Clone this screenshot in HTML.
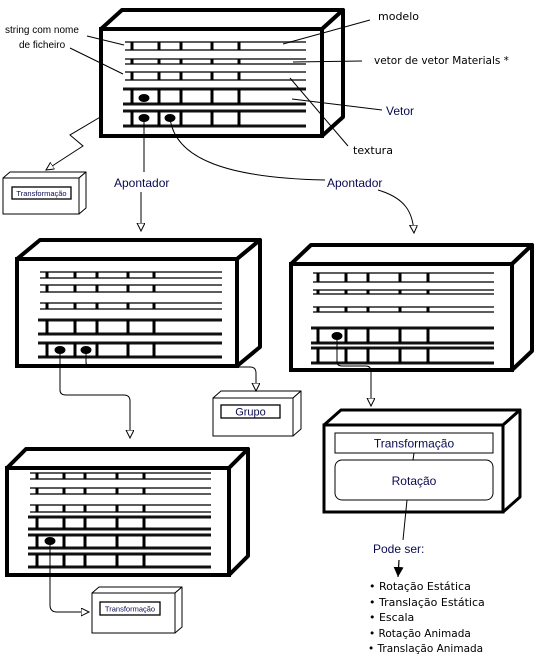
<!DOCTYPE html>
<html><head><meta charset="utf-8"><style>
html,body{margin:0;padding:0;background:#fff;width:545px;height:661px;overflow:hidden}
svg{display:block}
text{font-family:"Liberation Sans",sans-serif}
text.dj{font-family:"DejaVu Sans",sans-serif}
</style></head><body>
<svg id="s" width="545" height="661" viewBox="0 0 545 661" xmlns="http://www.w3.org/2000/svg">
<defs>
<marker id="oa" markerWidth="10" markerHeight="10" refX="8" refY="4" orient="auto" markerUnits="userSpaceOnUse"><path d="M0,0 L8,4 L0,8 Z" fill="#fff" stroke="#000" stroke-width="1"/></marker>
<marker id="fa" markerWidth="12" markerHeight="12" refX="10" refY="5" orient="auto" markerUnits="userSpaceOnUse"><path d="M0,0 L10,5 L0,10 Z" fill="#000"/></marker>
</defs>
<g id="boxes"></g>
<g fill="none" stroke="#000" stroke-width="1">
<line x1="87" y1="36" x2="124" y2="45"/>
<line x1="70" y1="48" x2="123" y2="74"/>
<line x1="370" y1="20" x2="283" y2="44"/>
<line x1="293" y1="62" x2="362" y2="61"/>
<line x1="292" y1="99" x2="382" y2="110"/>
<line x1="290" y1="78" x2="348" y2="146"/>
<path d="M102,116 L70,135 L83,146 L46,170" marker-end="url(#oa)"/>
<path d="M144,118 L144,172"/>
<path d="M141,192 L141,231" marker-end="url(#oa)"/>
<path d="M170,118 C175,160 230,178 325,180"/>
<path d="M378,190 C405,198 413,212 414,233" marker-end="url(#oa)"/>
<path d="M60,350 L60,390 Q60,395 66,395 L124,395 Q130,395 130,401 L130,438" marker-end="url(#oa)"/>
<path d="M86,350 L86,362 Q86,367 92,367 L250,367 Q256,367 256,373 L256,391" marker-end="url(#oa)"/>
<path d="M337,336 L337,362 Q337,366 342,366 L366,366 Q371,366 371,372 L371,406" marker-end="url(#oa)"/>
<path d="M50,541 L50,605 Q50,612 57,612 L89,612" marker-end="url(#oa)"/>
<line x1="414" y1="453" x2="413" y2="460"/>
<line x1="407" y1="500" x2="403" y2="540"/>
<path d="M399,560 L398,577" stroke-width="1.2" marker-end="url(#fa)"/>
</g>
<g font-size="11" fill="#000">
<text x="5" y="33" font-size="10">string com nome</text>
<text x="19" y="48" font-size="10">de ficheiro</text>
<text class="dj" x="378" y="20" font-size="11">modelo</text>
<text class="dj" x="374" y="64" font-size="10.5">vetor de vetor Materials *</text>
<text x="386" y="115" font-size="12" fill="#0a0a50">Vetor</text>
<text class="dj" x="353" y="154" font-size="11">textura</text>
<text x="114" y="187" font-size="12" fill="#0a0a50">Apontador</text>
<text x="327" y="187" font-size="12" fill="#0a0a50">Apontador</text>
<text x="373" y="553" font-size="12" fill="#0a0a50">Pode ser:</text>
<text class="dj" x="369" y="590" font-size="11">• Rotação Estática</text>
<text class="dj" x="369" y="606" font-size="11">• Translação Estática</text>
<text class="dj" x="369" y="621" font-size="11">• Escala</text>
<text class="dj" x="369" y="637" font-size="10.5">• Rotação Animada</text>
<text class="dj" x="368" y="652" font-size="10.5">• Translação Animada</text>
</g>
</svg>
<script>
var g=document.getElementById('boxes'),h='';
function P(pts){return pts.map(function(p){return p.join(',')}).join(' ')}
function box(x1,y1,x2,y2,dx,dy,sw){
 h+='<polygon points="'+P([[x1,y1],[x1+dx,y1-dy],[x2+dx,y1-dy],[x2,y1]])+'" fill="#fff" stroke="#000" stroke-width="'+sw+'" stroke-linejoin="round"/>';
 h+='<polygon points="'+P([[x2,y1],[x2+dx,y1-dy],[x2+dx,y2-dy],[x2,y2]])+'" fill="#fff" stroke="#000" stroke-width="'+sw+'" stroke-linejoin="round"/>';
 h+='<rect x="'+x1+'" y="'+y1+'" width="'+(x2-x1)+'" height="'+(y2-y1)+'" fill="#fff" stroke="#000" stroke-width="'+sw+'"/>';
}
function rows(a,b,ticks,thin,thick,dots){
 thin.forEach(function(r){
  h+='<line x1="'+a+'" y1="'+r[0]+'" x2="'+b+'" y2="'+r[0]+'" stroke="#444" stroke-width="1.8"/>';
  h+='<line x1="'+a+'" y1="'+r[1]+'" x2="'+b+'" y2="'+r[1]+'" stroke="#444" stroke-width="1.8"/>';
  ticks.forEach(function(t){h+='<line x1="'+t+'" y1="'+r[0]+'" x2="'+t+'" y2="'+r[1]+'" stroke="#000" stroke-width="3"/>';});
 });
 thick.forEach(function(r){
  h+='<line x1="'+(a-2)+'" y1="'+r[0]+'" x2="'+b+'" y2="'+r[0]+'" stroke="#111" stroke-width="3"/>';
  h+='<line x1="'+(a-2)+'" y1="'+r[1]+'" x2="'+b+'" y2="'+r[1]+'" stroke="#111" stroke-width="3"/>';
  ticks.forEach(function(t){h+='<line x1="'+t+'" y1="'+r[0]+'" x2="'+t+'" y2="'+r[1]+'" stroke="#000" stroke-width="3"/>';});
 });
 dots.forEach(function(d){h+='<ellipse cx="'+d[0]+'" cy="'+d[1]+'" rx="5.5" ry="4" fill="#000"/>';});
}
box(101,29,322,136,21,19,4);
rows(125,306,[132,159,181,212,239],[[42,50],[59,64],[72,80]],[[89,104],[111,126]],[[144,98],[144,118],[170,118]]);
box(17,259,237,366,23,19,4);
rows(40,222,[47,75,97,128,154],[[272,278],[285,292],[303,309]],[[320,334],[343,357]],[[60,350],[86,350]]);
box(291,264,512,370,20,19,4);
rows(313,494,[318,346,368,400,428],[[273,282],[290,294],[307,312]],[[328,343],[348,363]],[[337,336]]);
box(7,468,229,575,19,19,4);
rows(30,211,[37,64,85,117,144],[[473,479],[488,494],[505,512]],[[517,529],[535,548],[554,567]],[[50,541]]);
box(324,425,503,512,17,15,3);
box(3,178,79,214,7,6,1);
box(213,398,293,436,8,7,1);
box(92,593,175,633,7,6,1);
h+='<rect x="12" y="187" width="59" height="12" fill="#fff" stroke="#000" stroke-width="1.3"/>';
h+='<text x="41.5" y="196" font-size="7.5" text-anchor="middle" fill="#0a0a50">Transformação</text>';
h+='<rect x="221" y="405" width="59" height="13" fill="#fff" stroke="#000" stroke-width="1.3"/>';
h+='<text x="250.5" y="415.5" font-size="11" text-anchor="middle" fill="#0a0a50">Grupo</text>';
h+='<rect x="100" y="602" width="60" height="13" fill="#fff" stroke="#000" stroke-width="1.3"/>';
h+='<text x="130" y="611.5" font-size="7.5" text-anchor="middle" fill="#0a0a50">Transformação</text>';
h+='<rect x="335" y="433" width="158" height="20" fill="#fff" stroke="#000" stroke-width="1"/>';
h+='<text x="414" y="447.5" font-size="12" text-anchor="middle" fill="#0a0a50">Transformação</text>';
h+='<rect x="335" y="460" width="158" height="40" rx="7" fill="#fff" stroke="#000" stroke-width="1"/>';
h+='<text x="414" y="485" font-size="12" text-anchor="middle" fill="#0a0a50">Rotação</text>';
g.innerHTML=h;
</script>
</body></html>
